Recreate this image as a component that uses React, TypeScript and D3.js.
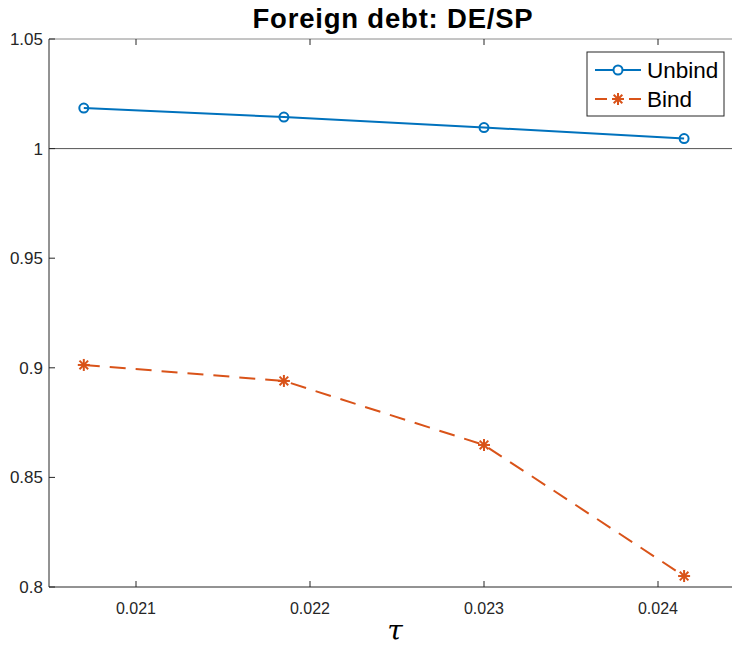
import React from 'react';
import { scaleLinear, line } from 'd3';

const tau = [0.0207, 0.02185, 0.023, 0.02415];
const unbind = [1.0185, 1.0144, 1.0096, 1.0046];
const bind = [0.9013, 0.894, 0.8648, 0.805];
const xTicks = [0.021, 0.022, 0.023, 0.024];
const yTicks = [0.8, 0.85, 0.9, 0.95, 1, 1.05];

const W = 732;
const H = 653;
const blue = '#0072BD';
const orange = '#D95319';
const axisColor = '#262626';
const font = '"Liberation Sans", Arial, Helvetica, sans-serif';

const Star = ({ x, y, r = 6, color }: { x: number; y: number; r?: number; color: string }) => {
    const d = r * 0.72;
    return (
        <g stroke={color} strokeWidth={2}>
            <line x1={x - r} y1={y} x2={x + r} y2={y} />
            <line x1={x} y1={y - r} x2={x} y2={y + r} />
            <line x1={x - d} y1={y - d} x2={x + d} y2={y + d} />
            <line x1={x - d} y1={y + d} x2={x + d} y2={y - d} />
        </g>
    );
};

const App = () => {
    const left = 49;
    const top = 39;
    const bottom = 587;
    const xScale = scaleLinear().domain([0.0205, 0.0245]).range([left, 745]);
    const yScale = scaleLinear().domain([0.8, 1.05]).range([bottom, top]);

    const path = line<number>()
        .x((d, i) => xScale(tau[i]))
        .y((d) => yScale(d));

    return (
        <svg width={W} height={H} style={{ position: 'absolute', left: 0, top: 0 }} fontFamily={font}>
            <rect width={W} height={H} fill="white" />
            <text x={393} y={28} textAnchor="middle" fontSize={27.5} fontWeight="bold" letterSpacing={0.8} fill="#000">
                Foreign debt: DE/SP
            </text>

            {/* axes box */}
            <line x1={left} y1={top} x2={W} y2={top} stroke="#8a8a8a" strokeWidth={1} />
            <line x1={left} y1={top} x2={left} y2={bottom} stroke={axisColor} strokeWidth={1} />
            <line x1={left} y1={bottom} x2={W} y2={bottom} stroke={axisColor} strokeWidth={1} />

            {/* reference line at 1 */}
            <line x1={left} y1={yScale(1)} x2={W} y2={yScale(1)} stroke="#555" strokeWidth={1} />

            {xTicks.map((t) => (
                <g key={t}>
                    <line x1={xScale(t)} y1={bottom} x2={xScale(t)} y2={bottom - 6} stroke={axisColor} />
                    <line x1={xScale(t)} y1={top} x2={xScale(t)} y2={top + 6} stroke={axisColor} />
                    <text x={xScale(t)} y={614} textAnchor="middle" fontSize={16} fill={axisColor}>
                        {t.toFixed(3)}
                    </text>
                </g>
            ))}
            {yTicks.map((t) => (
                <g key={t}>
                    <line x1={left} y1={yScale(t)} x2={left + 6} y2={yScale(t)} stroke={axisColor} />
                    <text x={left - 6} y={yScale(t) + 6} textAnchor="end" fontSize={17} fill={axisColor}>
                        {String(t)}
                    </text>
                </g>
            ))}

            <text x={395} y={640} textAnchor="middle" fontSize={28} fontStyle="italic" fontFamily="'DejaVu Serif', serif" fill="#000">
                τ
            </text>

            {/* series */}
            <path d={path(unbind) || ''} fill="none" stroke={blue} strokeWidth={2} />
            {unbind.map((v, i) => (
                <circle key={i} cx={xScale(tau[i])} cy={yScale(v)} r={4.5} fill="none" stroke={blue} strokeWidth={2} />
            ))}
            <path d={path(bind) || ''} fill="none" stroke={orange} strokeWidth={2} strokeDasharray="16,10" />
            {bind.map((v, i) => (
                <Star key={i} x={xScale(tau[i])} y={yScale(v)} color={orange} />
            ))}

            {/* legend */}
            <rect x={587} y={52} width={137} height={64} fill="white" stroke={axisColor} strokeWidth={1} />
            <line x1={595} y1={70} x2={641} y2={70} stroke={blue} strokeWidth={2} />
            <circle cx={618} cy={70} r={4.5} fill="white" stroke={blue} strokeWidth={2} />
            <text x={647} y={78} fontSize={22.5} fill="#000">Unbind</text>
            <line x1={595} y1={99} x2={607} y2={99} stroke={orange} strokeWidth={2} />
            <line x1={629} y1={99} x2={641} y2={99} stroke={orange} strokeWidth={2} />
            <Star x={618} y={99} color={orange} />
            <text x={647} y={107} fontSize={22.5} fill="#000">Bind</text>
        </svg>
    );
};

export default App;
